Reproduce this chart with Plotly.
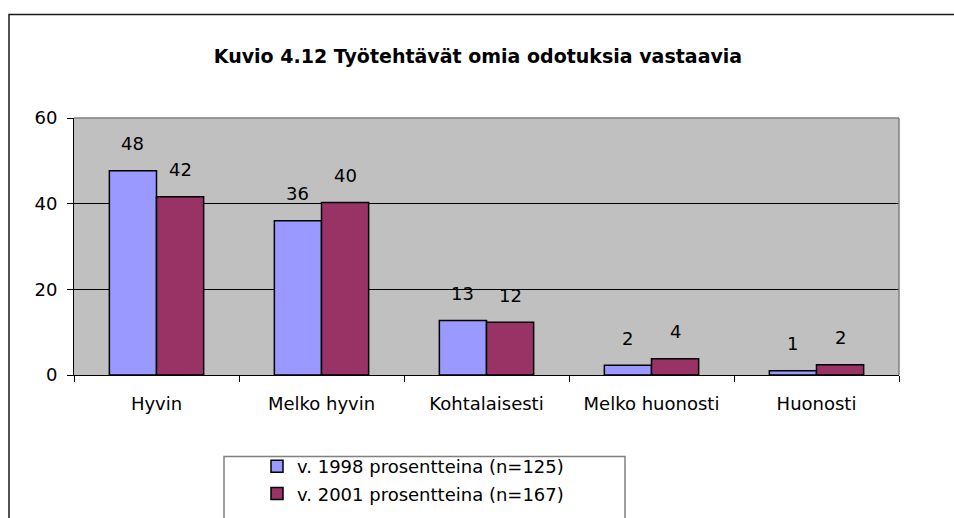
import plotly.graph_objects as go

categories = ["Hyvin", "Melko hyvin", "Kohtalaisesti", "Melko huonosti", "Huonosti"]
values_1998 = [47.7, 36.0, 12.7, 2.3, 1.0]
values_2001 = [41.6, 40.3, 12.3, 3.8, 2.4]
labels_1998 = ["48", "36", "13", "2", "1"]
labels_2001 = ["42", "40", "12", "4", "2"]
series_names = ["v. 1998 prosentteina (n=125)", "v. 2001 prosentteina (n=167)"]
y_ticks = [0, 20, 40, 60]

FONT = "DejaVu Sans"
W, H = 954, 518
L, R, T, B = 74, 899, 118, 375
PW, PH = R - L, B - T

def px(xp):
    return (xp - L) / PW

def py(yp):
    return (B - yp) / PH

fig = go.Figure()
fig.add_trace(go.Bar(
    x=categories, y=values_1998, name=series_names[0],
    marker=dict(color="#9999FF", line=dict(color="black", width=1.5)),
    legendgroup="a",
))
fig.add_trace(go.Bar(
    x=categories, y=values_2001, name=series_names[1],
    marker=dict(color="#993366", line=dict(color="black", width=1.5)),
    legendgroup="b",
))

bargap = 1.5 / 3.5
half = (1 - bargap) / 4
annotations = []
for i, (v, t) in enumerate(zip(values_1998, labels_1998)):
    annotations.append(dict(x=i - half, y=v, text=t, showarrow=False, yshift=27,
                            yanchor="middle", xref="x", yref="y",
                            font=dict(family=FONT, size=18, color="black")))
for i, (v, t) in enumerate(zip(values_2001, labels_2001)):
    annotations.append(dict(x=i + half, y=v, text=t, showarrow=False, yshift=27,
                            yanchor="middle", xref="x", yref="y",
                            font=dict(family=FONT, size=18, color="black")))

shapes = [
    # outer chart border
    dict(type="rect", xref="paper", yref="paper",
         x0=px(9), x1=px(975), y0=py(545), y1=py(14.5),
         line=dict(color="#1a1a1a", width=1.5), fillcolor="rgba(0,0,0,0)", layer="below"),
    # plot area top and right borders
    dict(type="line", xref="paper", yref="paper", x0=0, x1=1, y0=1, y1=1,
         line=dict(color="#808080", width=1.5)),
    dict(type="line", xref="paper", yref="paper", x0=1, x1=1, y0=0, y1=1,
         line=dict(color="#808080", width=1.5)),
    # legend box
    dict(type="rect", xref="paper", yref="paper",
         x0=px(224), x1=px(625), y0=py(545), y1=py(456.5),
         line=dict(color="#808080", width=1.5), fillcolor="white", layer="below"),
]

fig.update_layout(
    width=W, height=H,
    margin=dict(l=L, r=W - R, t=T, b=H - B, pad=0, autoexpand=False),
    paper_bgcolor="white",
    plot_bgcolor="#C0C0C0",
    barmode="group",
    bargap=bargap,
    bargroupgap=0,
    font=dict(family=FONT, size=18, color="black"),
    title=dict(text="<b>Kuvio 4.12 Työtehtävät omia odotuksia vastaavia</b>",
               x=478 / W, xanchor="center", y=1 - 56 / H, yanchor="middle",
               font=dict(family=FONT, size=19, color="black")),
    showlegend=True,
    legend=dict(x=px(257), y=py(448), xanchor="left", yanchor="top",
                bgcolor="rgba(0,0,0,0)", borderwidth=0,
                font=dict(family=FONT, size=18, color="black"),
                traceorder="grouped", tracegroupgap=1),
    annotations=annotations,
    shapes=shapes,
)
fig.update_xaxes(
    type="category", showgrid=False, showline=True, linecolor="black", linewidth=1,
    ticks="outside", tickson="boundaries", ticklen=6, tickcolor="black",
    tickfont=dict(family=FONT, size=18, color="black"), ticklabelstandoff=12,
    fixedrange=True,
)
fig.update_yaxes(
    range=[0, 60], tickvals=y_ticks, showgrid=True, gridcolor="black", gridwidth=1,
    showline=True, linecolor="black", linewidth=1, zeroline=False,
    ticks="outside", ticklen=6, tickcolor="black",
    tickfont=dict(family=FONT, size=18, color="black"), ticklabelstandoff=6,
    fixedrange=True,
)

fig.write_html(
    "out.html",
    config={"displayModeBar": False},
    post_script="document.body.style.margin='0';document.body.style.overflow='hidden';",
)
